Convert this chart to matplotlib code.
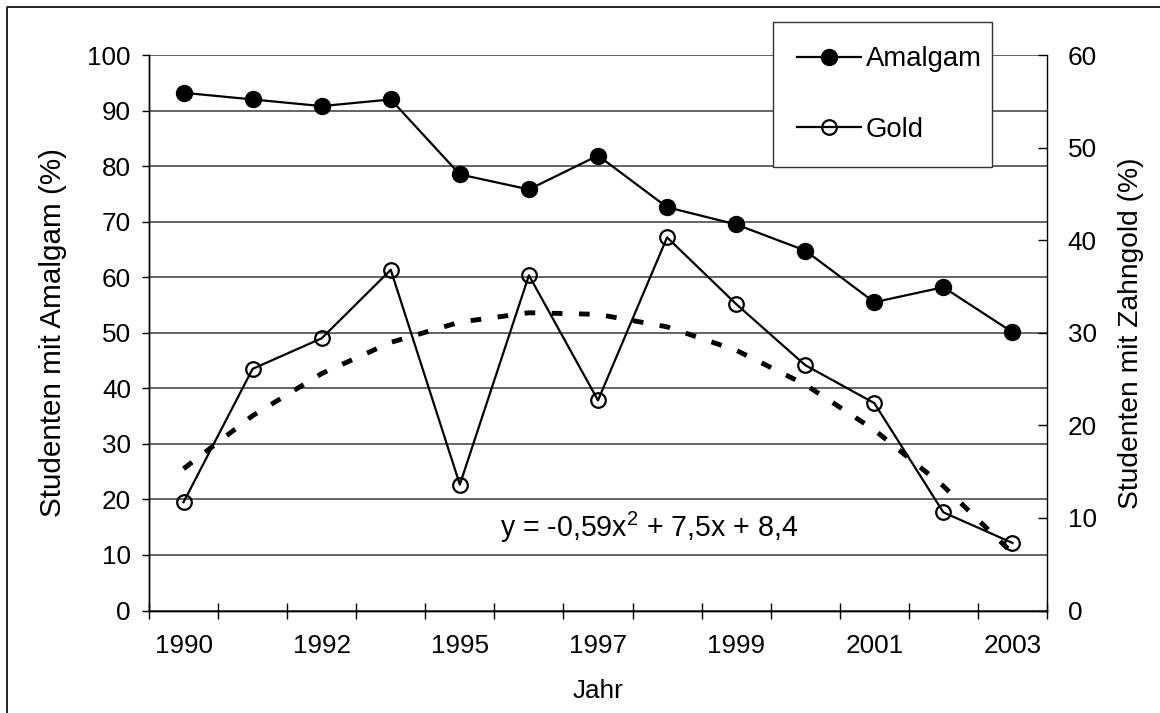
import numpy as np
import matplotlib
matplotlib.use("Agg")
import matplotlib.pyplot as plt
from matplotlib.lines import Line2D

plt.rcParams['font.family'] = ['Liberation Sans', 'DejaVu Sans']
plt.rcParams['mathtext.fontset'] = 'custom'
plt.rcParams['mathtext.rm'] = 'Liberation Sans'
plt.rcParams['mathtext.it'] = 'Liberation Sans'

# ---- data ----
year_labels = ["1990", "", "1992", "", "1995", "", "1997", "", "1999", "", "2001", "", "2003"]
amalgam = [93.2, 92.0, 90.8, 92.0, 78.5, 75.8, 81.9, 72.6, 69.5, 64.8, 55.5, 58.2, 50.1]
gold = [11.7, 26.1, 29.4, 36.8, 13.6, 36.2, 22.7, 40.3, 33.1, 26.5, 22.4, 10.6, 7.3]
trend_coef = [-0.59, 7.5, 8.4]  # y = a x^2 + b x + c, x = 1..n
left_ticks = [0, 10, 20, 30, 40, 50, 60, 70, 80, 90, 100]
right_ticks = [0, 10, 20, 30, 40, 50, 60]

FS = 18.8
W, H = 1160, 713
fig = plt.figure(figsize=(W / 100, H / 100), dpi=100)
ax = fig.add_axes([149 / W, 1 - 610.5 / H, (1047 - 149) / W, (610.5 - 55) / H])
ax2 = ax.twinx()

n = len(amalgam)
x = np.arange(n)

# grid lines
ax.set_ylim(0, 100)
ax.set_yticks(left_ticks)
for v in left_ticks:
    ax.axhline(v, color='#3a3a3a', lw=1.1, zorder=0)

ax.plot(x, amalgam, color='black', lw=1.6, marker='o', markersize=11.5,
        markerfacecolor='black', markeredgecolor='black', zorder=3, label='Amalgam')

ax2.set_ylim(0, 60)
ax2.set_yticks(right_ticks)
ax2.plot(x, gold, color='black', lw=1.6, marker='o', markersize=10.5,
         markerfacecolor='none', markeredgecolor='black', markeredgewidth=1.6,
         zorder=3, label='Gold')
xt = np.arange(1, n + 1)
trend = np.polyval(trend_coef, xt)
ax2.plot(x, trend, color='black', lw=3.5, linestyle=(0, (2.2, 3.4)), zorder=2)

ax.set_xlim(-0.5, n - 0.5)
ax.set_xticks(np.arange(-0.5, n, 1.0))
ax.set_xticklabels([])
ax.set_xticks(x, minor=True)
ax.set_xticklabels(year_labels, minor=True, fontsize=FS)
ax.tick_params(axis='x', which='major', direction='inout', length=11.5, width=1)
ax.tick_params(axis='x', which='minor', length=0, pad=17)
ax.tick_params(axis='y', which='major', direction='out', length=5, width=1,
               labelsize=FS, pad=8)
ax2.tick_params(axis='y', which='major', direction='in', length=6.5, width=1,
                labelsize=FS, pad=15)

for a in (ax, ax2):
    a.spines['top'].set_visible(False)
    for s in ('left', 'right', 'bottom'):
        a.spines[s].set_color('black')
        a.spines[s].set_linewidth(1)
ax.spines['right'].set_visible(False)

ax.set_ylabel('Studenten mit Amalgam (%)', fontsize=21.3, labelpad=15)
ax2.set_ylabel('Studenten mit Zahngold (%)', fontsize=20.3, labelpad=15)
ax.set_xlabel('Jahr', fontsize=FS, labelpad=15)

ax.text(6.74, 14.9, r'y = -0,59x$^{2}$ + 7,5x + 8,4', fontsize=20.6,
        ha='center', va='center', zorder=5)

h1, l1 = ax.get_legend_handles_labels()
h2, l2 = ax2.get_legend_handles_labels()
leg = ax2.legend(h1 + h2, l1 + l2, loc='upper left',
                 bbox_to_anchor=(0.695, 0.802, 0.244, 0.257), mode='expand',
                 fontsize=19.8, frameon=True, fancybox=False, framealpha=1,
                 edgecolor='#333333', borderpad=0.88, labelspacing=1.62,
                 handlelength=2.3, handletextpad=0.2, borderaxespad=0)
leg.get_frame().set_linewidth(1)
leg.set_zorder(10)

# outer frame
fig.add_artist(Line2D([7 / W, 7 / W, 1.0], [0.0, 1 - 7 / H, 1 - 7 / H],
                      transform=fig.transFigure, color='black', lw=1.2))

fig.savefig('out.png', dpi=100)
